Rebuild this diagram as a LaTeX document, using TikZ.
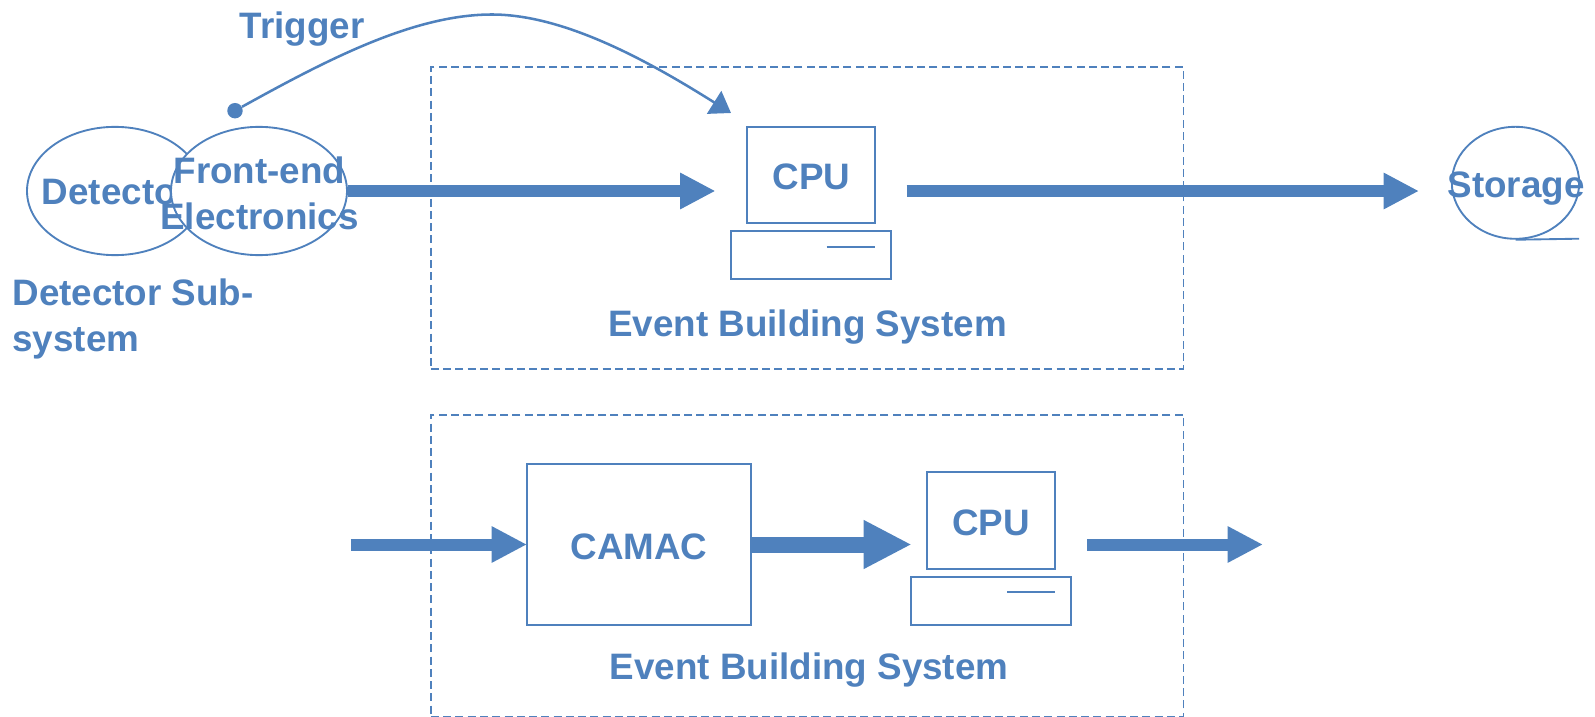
\documentclass[tikz,border=0pt]{standalone}
\usepackage{fontspec}
\setmainfont{Liberation Sans}
\usetikzlibrary{arrows.meta,positioning,shapes.geometric}
\definecolor{daqblue}{RGB}{79,129,189}

\begin{document}
\begin{tikzpicture}[x=0.75pt,y=-0.75pt,font=\fontsize{27.6}{34.3}\selectfont\bfseries,text=daqblue,draw=daqblue]
  \tikzstyle{lab}=[inner sep=0pt,outer sep=0pt,anchor=base]
  \tikzstyle{ell}=[ellipse,draw=daqblue,fill=white,line width=1.4pt,inner sep=0pt,minimum width=132pt,minimum height=96.2pt]
  \tikzstyle{box}=[rectangle,draw=daqblue,line width=1.5pt,inner sep=0pt]
  \tikzstyle{dashbox}=[box,dashed,dash pattern=on 6pt off 3.2pt,line width=1.2pt,minimum width=564.4pt,minimum height=226.2pt]
  \tikzstyle{monitor}=[box,minimum width=96.2pt,minimum height=72.2pt]
  \tikzstyle{cpubase}=[box,minimum width=120.3pt,minimum height=36.2pt]
  \tikzstyle{slot}=[draw=daqblue,line width=1.4pt]
  \tikzstyle{fat}=[draw=daqblue,line width=9pt,-{Triangle[length=26.5pt,width=25.5pt]}]
  \tikzstyle{fatter}=[draw=daqblue,line width=12pt,-{Triangle[length=36pt,width=34pt]}]

  \useasboundingbox (0,0) rectangle (1595,717);

  % event building frames
  \node[dashbox] (framea) at (807.2,218) {};
  \node[dashbox] (frameb) at (807.2,565.6) {};

  % detector sub-system
  \node[ell] (detector) at (115,191) {};
  \node[lab] (detectorlab) at (116.5,204.3) {Detector};
  \node[ell] (frontend) at (259,191) {};
  \node[inner sep=0pt,align=center,text depth=0pt] (frontendlab) at (259.5,193.5) {Front-end\\Electronics};
  \node[inner sep=0pt,anchor=north west,align=left] (subsystem) at (12.2,279) {Detector Sub-\\system};

  % trigger
  \node[lab] (triggerlab) at (302,38.5) {Trigger};
  \node[circle,fill=daqblue,inner sep=0pt,minimum size=11.6pt] (trigdot) at (235,110.7) {};
  \coordinate (trigtop) at (492,14.5);
  \coordinate (trigend) at (731,113);

  % upper chain
  \node[monitor] (monitora) at (810.9,174.9) {};
  \node[lab] (cpualab) at (811.4,189.3) {CPU};
  \node[cpubase,below=4.6pt of monitora] (basea) {};
  \coordinate (slotastart) at (826.7,246.7);
  \coordinate (slotaend) at (875,246.7);
  \coordinate (inputa) at (715.5,191);
  \coordinate (outstart) at (906.6,191);
  \coordinate (outend) at (1419,191);
  \node[ell,minimum width=95.5pt,minimum height=84pt] (storage) at (1515.5,182.8) {};
  \node[lab] (storagelab) at (1516,197.7) {Storage};
  \coordinate (tapeend) at (1579,238.7);
  \node[lab] (eventa) at (807.5,336) {Event Building System};

  % lower chain
  \node[box,minimum width=168.4pt,minimum height=120.5pt] (camac) at (638.8,544.7) {};
  \node[lab] (camaclab) at (639,559) {CAMAC};
  \node[monitor] (monitorb) at (990.7,520.5) {};
  \node[lab] (cpublab) at (991.2,535) {CPU};
  \node[cpubase,below=4.6pt of monitorb] (baseb) {};
  \coordinate (slotbstart) at (1007,592.3);
  \coordinate (slotbend) at (1054.6,592.3);
  \coordinate (instart) at (350.8,544.5);
  \coordinate (camacin) at (527,544.5);
  \coordinate (camacout) at (911.7,544.5);
  \coordinate (outbstart) at (1087,544.5);
  \coordinate (outbend) at (1263,544.5);
  \node[lab] (eventb) at (809,679) {Event Building System};

  % arrows
  \draw[draw=daqblue,line width=1.9pt,-{Triangle[length=15pt,width=20pt]}] (trigdot) .. controls (330,58) and (415,14.5) .. (trigtop) .. controls (565,14.5) and (650,62) .. (trigend);
  \draw[fat] (frontend.east |- inputa) -- (inputa);
  \draw[fat] (outstart) -- (outend);
  \draw[fat] (instart) -- (camacin);
  \draw[fatter] (camac.east |- camacout) -- (camacout);
  \draw[fat] (outbstart) -- (outbend);

  % details
  \draw[slot] (slotastart) -- (slotaend);
  \draw[slot] (slotbstart) -- (slotbend);
  \draw[slot] (storage.south) -- (tapeend);
\end{tikzpicture}
\end{document}
